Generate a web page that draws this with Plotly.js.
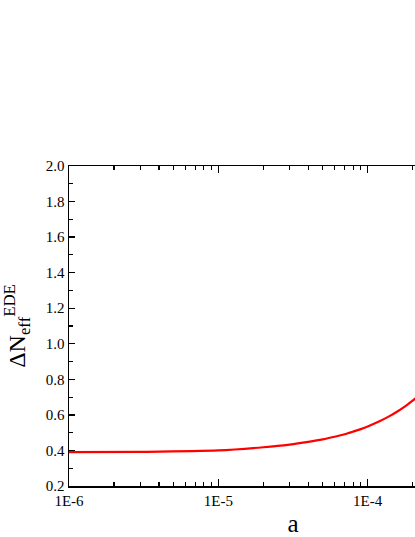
<!DOCTYPE html>
<html>
<head>
<meta charset="utf-8">
<script src="https://cdn.plot.ly/plotly-3.0.1.min.js"></script>
<style>
html,body{margin:0;padding:0;overflow:hidden;background:#fff;}
#chart{width:600px;height:537px;}
</style>
</head>
<body>
<div id="chart"></div>
<script>
// scale factor a (log) and Delta N_eff^EDE
const aValues = [1e-6, 3e-6, 1e-5, 2e-5, 3e-5, 4e-5, 5e-5, 6e-5, 7e-5, 8e-5, 9e-5, 1e-4, 1.2e-4, 1.4e-4, 1.6e-4, 1.8e-4, 2.0e-4, 2.2e-4];
const dNeff   = [0.390, 0.392, 0.400, 0.418, 0.433, 0.448, 0.462, 0.477, 0.491, 0.506, 0.520, 0.535, 0.564, 0.593, 0.622, 0.651, 0.680, 0.709];

const xTickVals = [1e-6, 1e-5, 1e-4];
const xTickText = ["1E-6", "1E-5", "1E-4"];
const xMinorVals = [];
[1e-6, 1e-5, 1e-4].forEach(d => { for (let k = 2; k <= 9; k++) xMinorVals.push(k * d); });

const font = "Liberation Serif, serif";

const trace = {
  x: aValues, y: dNeff, type: "scatter", mode: "lines",
  line: {color: "#ff0000", width: 2.2, shape: "spline", smoothing: 0.8},
  hoverinfo: "skip"
};

const layout = {
  width: 600, height: 537,
  margin: {l: 69, r: 82.5, t: 165.5, b: 51.3},
  paper_bgcolor: "#fff", plot_bgcolor: "#fff",
  showlegend: false,
  font: {family: font, color: "#000", size: 14},
  xaxis: {
    type: "log", range: [-6, -3],
    tickmode: "array", tickvals: xTickVals, ticktext: xTickText,
    ticks: "inside", ticklen: 7, tickwidth: 1.3, tickcolor: "#000",
    minor: {tickmode: "array", tickvals: xMinorVals, ticks: "inside", ticklen: 4, tickwidth: 1.2, tickcolor: "#000"},
    showline: true, linecolor: "#000", linewidth: 1.5, mirror: "allticks",
    showgrid: false, zeroline: false,
    tickfont: {family: font, size: 15, color: "#000"},
    title: {text: "a", font: {family: font, size: 25, color: "#000"}, standoff: 12},
    automargin: false
  },
  yaxis: {
    range: [0.2, 2.0], tickmode: "linear", tick0: 0.2, dtick: 0.2, tickformat: ".1f",
    ticks: "inside", ticklen: 6, tickwidth: 1.3, tickcolor: "#000",
    minor: {dtick: 0.1, ticks: "inside", ticklen: 3.5, tickwidth: 1.2, tickcolor: "#000"},
    showline: true, linecolor: "#000", linewidth: 1.5, mirror: "allticks",
    showgrid: false, zeroline: false,
    tickfont: {family: font, size: 15, color: "#000"},
    title: {text: "ΔN<sub>eff</sub><sup>EDE</sup>", font: {family: font, size: 24, color: "#000"}, standoff: 14},
    automargin: false
  }
};

Plotly.newPlot("chart", [trace], layout, {displayModeBar: false, staticPlot: true});
</script>
</body>
</html>
